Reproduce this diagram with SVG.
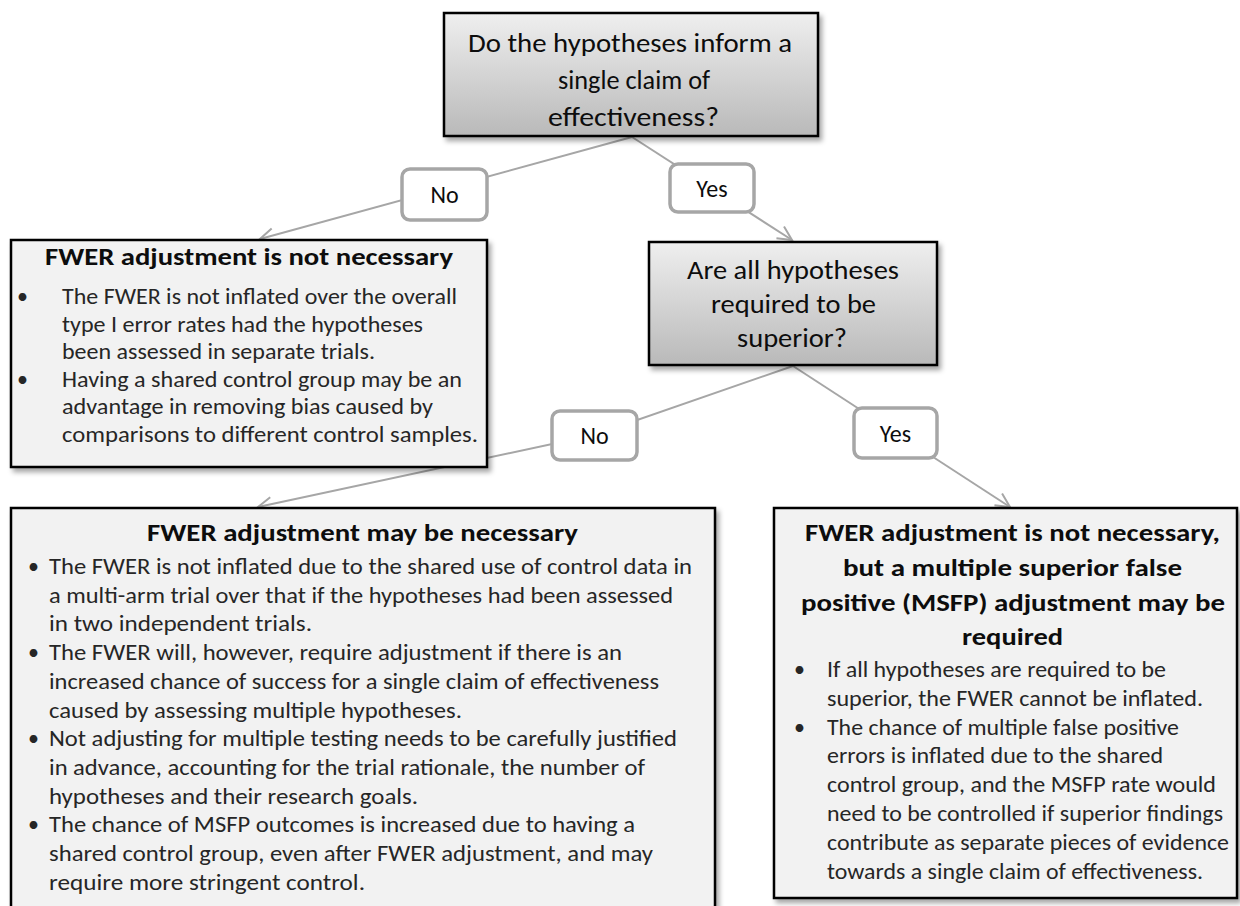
<svg xmlns="http://www.w3.org/2000/svg" width="1240" height="906" viewBox="0 0 1240 906">
<defs>
<linearGradient id="qgrad" x1="0" y1="0" x2="0" y2="1">
<stop offset="0" stop-color="#efefef"/>
<stop offset="1" stop-color="#b9b9b9"/>
</linearGradient>
<filter id="shadow" x="-10%" y="-10%" width="120%" height="130%">
<feDropShadow dx="3" dy="4" stdDeviation="2.5" flood-color="#000" flood-opacity="0.35"/>
</filter>
<marker id="arr" markerUnits="userSpaceOnUse" markerWidth="20" markerHeight="20" refX="15" refY="8" orient="auto">
<path d="M1,1 L15,8 L1,15" fill="none" stroke="#a6a6a6" stroke-width="2"/>
</marker>
<style>
text{font-family:Carlito,Lato,"Open Sans","Liberation Sans",sans-serif;}
.q{font-size:26px;fill:#0d0d0d;}
.box{fill:#f2f2f2;stroke:#000;stroke-width:2.5;}
.qbox{fill:url(#qgrad);stroke:#000;stroke-width:2.5;}
.ttl{font-size:24px;font-weight:bold;fill:#0d0d0d;}
.b{font-size:22px;fill:#262626;}
.lbl{fill:#fff;stroke:#a6a6a6;stroke-width:3.5;}
.lt{font-size:24px;fill:#0d0d0d;text-anchor:middle;}
.con{fill:none;stroke:#a6a6a6;stroke-width:2;}
</style>
</defs>
<rect width="1240" height="906" fill="#fff"/>

<g id="connectors">
<polyline class="con" points="632,137 260,239" marker-end="url(#arr)"/>
<polyline class="con" points="632,137 792,240" marker-end="url(#arr)"/>
<polyline class="con" points="793,366 594,435 258,507" marker-end="url(#arr)"/>
<polyline class="con" points="793,366 1010,507" marker-end="url(#arr)"/>
</g>

<g id="q1">
<rect class="qbox" x="444" y="13" width="374" height="123" filter="url(#shadow)"/>
<text class="q" x="468" y="52" textLength="324" lengthAdjust="spacingAndGlyphs">Do the hypotheses inform a</text>
<text class="q" x="558" y="89" textLength="152" lengthAdjust="spacingAndGlyphs">single claim of</text>
<text class="q" x="548" y="126" textLength="171" lengthAdjust="spacingAndGlyphs">effectiveness?</text>
</g>

<g id="q2">
<rect class="qbox" x="649" y="242" width="288" height="123" filter="url(#shadow)"/>
<text class="q" x="687" y="279" textLength="212" lengthAdjust="spacingAndGlyphs">Are all hypotheses</text>
<text class="q" x="711" y="313" textLength="165" lengthAdjust="spacingAndGlyphs">required to be</text>
<text class="q" x="737" y="347" textLength="110" lengthAdjust="spacingAndGlyphs">superior?</text>
</g>

<g id="label-no1">
<rect class="lbl" x="402" y="169" width="85" height="51" rx="8"/>
<text class="lt" x="444.5" y="203">No</text>
</g>
<g id="label-yes1">
<rect class="lbl" x="670" y="164" width="84" height="48" rx="8"/>
<text class="lt" x="712" y="197">Yes</text>
</g>
<g id="label-no2">
<rect class="lbl" x="552" y="411" width="85" height="49" rx="8"/>
<text class="lt" x="594.5" y="444">No</text>
</g>
<g id="label-yes2">
<rect class="lbl" x="854" y="408" width="83" height="50" rx="8"/>
<text class="lt" x="895.5" y="442">Yes</text>
</g>

<g id="res-left">
<rect class="box" x="11" y="240" width="476" height="227" filter="url(#shadow)"/>
<text class="ttl" x="45" y="265" textLength="408" lengthAdjust="spacingAndGlyphs">FWER adjustment is not necessary</text>
<text class="b" x="17" y="304">•</text>
<text class="b" x="62" y="304" textLength="395" lengthAdjust="spacingAndGlyphs">The FWER is not inflated over the overall</text>
<text class="b" x="62" y="331.5" textLength="361" lengthAdjust="spacingAndGlyphs">type I error rates had the hypotheses</text>
<text class="b" x="62" y="359" textLength="313" lengthAdjust="spacingAndGlyphs">been assessed in separate trials.</text>
<text class="b" x="17" y="386.5">•</text>
<text class="b" x="62" y="386.5" textLength="400" lengthAdjust="spacingAndGlyphs">Having a shared control group may be an</text>
<text class="b" x="62" y="414" textLength="371" lengthAdjust="spacingAndGlyphs">advantage in removing bias caused by</text>
<text class="b" x="62" y="441.5" textLength="416" lengthAdjust="spacingAndGlyphs">comparisons to different control samples.</text>
</g>

<g id="res-may">
<rect class="box" x="11" y="508" width="704" height="420" filter="url(#shadow)"/>
<text class="ttl" x="147" y="541" textLength="431" lengthAdjust="spacingAndGlyphs">FWER adjustment may be necessary</text>
<text class="b" x="28" y="574">•</text>
<text class="b" x="49" y="574" textLength="643" lengthAdjust="spacingAndGlyphs">The FWER is not inflated due to the shared use of control data in</text>
<text class="b" x="49" y="602.7" textLength="624" lengthAdjust="spacingAndGlyphs">a multi-arm trial over that if the hypotheses had been assessed</text>
<text class="b" x="49" y="631.4" textLength="263" lengthAdjust="spacingAndGlyphs">in two independent trials.</text>
<text class="b" x="28" y="660.1">•</text>
<text class="b" x="49" y="660.1" textLength="573" lengthAdjust="spacingAndGlyphs">The FWER will, however, require adjustment if there is an</text>
<text class="b" x="49" y="688.8" textLength="610" lengthAdjust="spacingAndGlyphs">increased chance of success for a single claim of effectiveness</text>
<text class="b" x="49" y="717.5" textLength="413" lengthAdjust="spacingAndGlyphs">caused by assessing multiple hypotheses.</text>
<text class="b" x="28" y="746.2">•</text>
<text class="b" x="49" y="746.2" textLength="628" lengthAdjust="spacingAndGlyphs">Not adjusting for multiple testing needs to be carefully justified</text>
<text class="b" x="49" y="774.9" textLength="596" lengthAdjust="spacingAndGlyphs">in advance, accounting for the trial rationale, the number of</text>
<text class="b" x="49" y="803.6" textLength="369" lengthAdjust="spacingAndGlyphs">hypotheses and their research goals.</text>
<text class="b" x="28" y="832.3">•</text>
<text class="b" x="49" y="832.3" textLength="586" lengthAdjust="spacingAndGlyphs">The chance of MSFP outcomes is increased due to having a</text>
<text class="b" x="49" y="861" textLength="604" lengthAdjust="spacingAndGlyphs">shared control group, even after FWER adjustment, and may</text>
<text class="b" x="49" y="889.7" textLength="316" lengthAdjust="spacingAndGlyphs">require more stringent control.</text>
</g>

<g id="res-msfp">
<rect class="box" x="774" y="508" width="463" height="390" filter="url(#shadow)"/>
<text class="ttl" x="805" y="541" textLength="415" lengthAdjust="spacingAndGlyphs">FWER adjustment is not necessary,</text>
<text class="ttl" x="843" y="576" textLength="339" lengthAdjust="spacingAndGlyphs">but a multiple superior false</text>
<text class="ttl" x="801" y="611" textLength="424" lengthAdjust="spacingAndGlyphs">positive (MSFP) adjustment may be</text>
<text class="ttl" x="962" y="645" textLength="101" lengthAdjust="spacingAndGlyphs">required</text>
<text class="b" x="794" y="677">•</text>
<text class="b" x="827" y="677" textLength="339" lengthAdjust="spacingAndGlyphs">If all hypotheses are required to be</text>
<text class="b" x="827" y="705.8" textLength="376" lengthAdjust="spacingAndGlyphs">superior, the FWER cannot be inflated.</text>
<text class="b" x="794" y="734.6">•</text>
<text class="b" x="827" y="734.6" textLength="352" lengthAdjust="spacingAndGlyphs">The chance of multiple false positive</text>
<text class="b" x="827" y="763.4" textLength="336" lengthAdjust="spacingAndGlyphs">errors is inflated due to the shared</text>
<text class="b" x="827" y="792.2" textLength="389" lengthAdjust="spacingAndGlyphs">control group, and the MSFP rate would</text>
<text class="b" x="827" y="821" textLength="396" lengthAdjust="spacingAndGlyphs">need to be controlled if superior findings</text>
<text class="b" x="827" y="849.8" textLength="402" lengthAdjust="spacingAndGlyphs">contribute as separate pieces of evidence</text>
<text class="b" x="827" y="878.6" textLength="376" lengthAdjust="spacingAndGlyphs">towards a single claim of effectiveness.</text>
</g>
</svg>
